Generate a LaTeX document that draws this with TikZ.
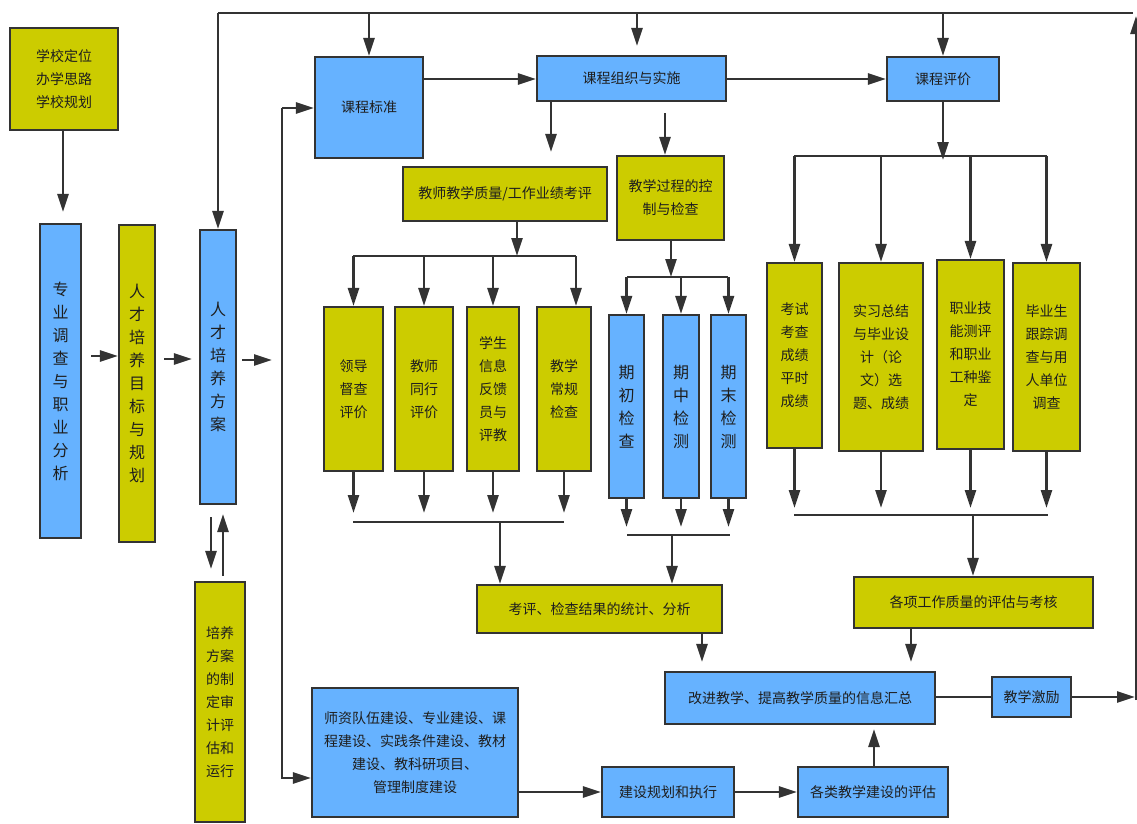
\documentclass[tikz,border=0pt]{standalone}
\usepackage{fontspec}
\newfontfamily\cjk{Noto Sans CJK SC}
\usetikzlibrary{arrows.meta}
\definecolor{yel}{RGB}{204,204,0}
\definecolor{blu}{RGB}{102,178,255}
\definecolor{lncol}{RGB}{51,51,51}
\definecolor{txcol}{RGB}{30,30,30}
\begin{document}
\begin{tikzpicture}[x=1pt,y=-1pt,
 box/.style={draw=lncol, line width=2.2pt, inner sep=0pt, align=center, text=txcol, font=\cjk\fontsize{14}{23}\selectfont},
 vbox/.style={font=\cjk\fontsize{16}{23}\selectfont},
 ybox/.style={box, fill=yel},
 bbox/.style={box, fill=blu},
 arr/.style={draw=lncol, line width=2.6pt, -{Triangle[length=18pt,width=11pt]}},
 plain/.style={draw=lncol, line width=2.6pt}]
\fill[white] (0,0) rectangle (1137,823);
\useasboundingbox (0,0) rectangle (1137,823);

% nodes
\node[ybox, minimum width=108, minimum height=102] (sch) at (64,79) {学校定位\\办学思路\\学校规划};
\node[bbox, vbox, minimum width=41, minimum height=314] (zy) at (60.5,381) {专\\业\\调\\查\\与\\职\\业\\分\\析};
\node[ybox, vbox, minimum width=36, minimum height=317] (mb) at (137,383.5) {人\\才\\培\\养\\目\\标\\与\\规\\划};
\node[bbox, vbox, minimum width=36, minimum height=274] (fa) at (218,367) {人\\才\\培\\养\\方\\案};
\node[ybox, minimum width=50, minimum height=240] (zd) at (220,702) {培养\\方案\\的制\\定审\\计评\\估和\\运行};
\node[bbox, minimum width=108, minimum height=101] (kcbz) at (369,107.5) {课程标准};
\node[bbox, minimum width=189, minimum height=45] (kczz) at (631.5,78.5) {课程组织与实施};
\node[bbox, minimum width=112, minimum height=44] (kcpj) at (943,79) {课程评价};
\node[ybox, minimum width=204, minimum height=54] (jskp) at (505,194) {教师教学质量/工作业绩考评};
\node[ybox, minimum width=107, minimum height=84] (jxgc) at (670.5,198) {教学过程的控\\制与检查};
\node[ybox, minimum width=59, minimum height=164] (ld) at (353.5,389) {领导\\督查\\评价};
\node[ybox, minimum width=58, minimum height=164] (th) at (424,389) {教师\\同行\\评价};
\node[ybox, minimum width=52, minimum height=164] (xs) at (493,389) {学生\\信息\\反馈\\员与\\评教};
\node[ybox, minimum width=54, minimum height=164] (cg) at (564,389) {教学\\常规\\检查};
\node[bbox, vbox, minimum width=35, minimum height=183] (qc) at (626.5,406.5) {期\\初\\检\\查};
\node[bbox, vbox, minimum width=36, minimum height=183] (qz) at (681,406.5) {期\\中\\检\\测};
\node[bbox, vbox, minimum width=35, minimum height=183] (qm) at (728.5,406.5) {期\\末\\检\\测};
\node[ybox, minimum width=55, minimum height=185] (ks) at (794.5,355.5) {考试\\考查\\成绩\\平时\\成绩};
\node[ybox, minimum width=84, minimum height=188] (sx) at (881,357) {实习总结\\与毕业设\\计（论\\文）选\\题、成绩};
\node[ybox, minimum width=67, minimum height=189] (zyjn) at (970.5,354.5) {职业技\\能测评\\和职业\\工种鉴\\定};
\node[ybox, minimum width=67, minimum height=188] (bys) at (1046.5,357) {毕业生\\跟踪调\\查与用\\人单位\\调查};
\node[ybox, minimum width=245, minimum height=48] (kpjg) at (599.5,609) {考评、检查结果的统计、分析};
\node[ybox, minimum width=239, minimum height=51] (gxgz) at (973.5,602.5) {各项工作质量的评估与考核};
\node[bbox, minimum width=270, minimum height=52] (gj) at (800,698) {改进教学、提高教学质量的信息汇总};
\node[bbox, minimum width=79, minimum height=40] (jl) at (1031.5,697) {教学激励};
\node[bbox, minimum width=206, minimum height=129] (sz) at (415,752.5) {师资队伍建设、专业建设、课\\程建设、实践条件建设、教材\\建设、教科研项目、\\管理制度建设};
\node[bbox, minimum width=132, minimum height=50] (jsgh) at (668,792) {建设规划和执行};
\node[bbox, minimum width=150, minimum height=50] (gl) at (873,792) {各类教学建设的评估};

% coordinates
\coordinate (tl) at (218,13);
\coordinate (tr) at (1133,13);
\coordinate (rb) at (1136,700);
\coordinate (rt) at (1136,16);
\coordinate (lv1) at (282,108);
\coordinate (lv2) at (282,778);
\coordinate (faout) at (272,360);
\coordinate (b1) at (517,256);
\coordinate (b1l) at (353,256);
\coordinate (b1r) at (576,256);
\coordinate (b2) at (671,277);
\coordinate (b2l) at (627,277);
\coordinate (b2r) at (728,277);
\coordinate (b3) at (943,156);
\coordinate (b3l) at (794,156);
\coordinate (b3r) at (1047,156);
\coordinate (c1) at (500,522);
\coordinate (c1l) at (353,522);
\coordinate (c1r) at (564,522);
\coordinate (c2) at (672,535);
\coordinate (c2l) at (627,535);
\coordinate (c2r) at (730,535);
\coordinate (c3) at (973,515);
\coordinate (c3l) at (794,515);
\coordinate (c3r) at (1048,515);
\coordinate (jlout) at (1135,697);

% left chain
\draw[arr, shorten >=11pt] (sch.south -| 63,0) -- (zy.north -| 63,0);
\draw[arr, shorten <=9pt] (zy.east |- 0,356) -- (mb.west |- 0,356);
\draw[arr, shorten <=8pt, shorten >=7pt] (mb.east |- 0,359) -- (fa.west |- 0,359);
\draw[arr, shorten <=5pt] (fa.east |- faout) -- (faout);
\draw[arr, shorten <=12pt, shorten >=12pt] (fa.south -| 211,0) -- (zd.north -| 211,0);
\draw[arr, shorten <=5pt, shorten >=9pt] (zd.north -| 223,0) -- (fa.south -| 223,0);

% top feedback line
\draw[plain] (tr) -- (tl);
\draw[arr] (tl) -- (fa.north);
\draw[arr] (kcbz.north |- tl) -- (kcbz.north);
\draw[arr, shorten >=9pt] (637,13) -- (kczz.north -| 637,0);
\draw[arr] (kcpj.north |- tl) -- (kcpj.north);
\draw[arr] (rb) -- (rt);

% left vertical line
\draw[arr] (lv1) -- (kcbz.west |- lv1);
\draw[arr] (lv1) -- (lv2) -- (sz.west |- lv2);

% course row
\draw[arr] (kcbz.east |- 0,79) -- (kczz.west |- 0,79);
\draw[arr] (kczz.east |- 0,79) -- (kcpj.west |- 0,79);
\draw[arr, shorten >=14pt] (kczz.south -| 551,0) -- (jskp.north -| 551,0);
\draw[arr, shorten <=11pt] (kczz.south -| 665,0) -- (jxgc.north -| 665,0);

% teacher evaluation branch
\draw[arr] (jskp.south -| b1) -- (b1);
\draw[plain] (b1l) -- (b1r);
\draw[arr] (ld.north |- b1l) -- (ld.north);
\draw[arr] (th.north |- b1l) -- (th.north);
\draw[arr] (xs.north |- b1l) -- (xs.north);
\draw[arr] (b1r) -- (cg.north -| b1r);

% process branch
\draw[arr] (jxgc.south -| b2) -- (b2);
\draw[plain] (b2l) -- (b2r);
\draw[arr] (qc.north |- b2l) -- (qc.north);
\draw[arr] (qz.north |- b2l) -- (qz.north);
\draw[arr] (qm.north |- b2l) -- (qm.north);

% evaluation branch
\draw[arr] (kcpj.south) -- ([yshift=-4pt]b3);
\draw[plain] (b3l) -- (b3r);
\draw[arr] (ks.north |- b3l) -- (ks.north);
\draw[arr] (sx.north |- b3l) -- (sx.north);
\draw[arr] (zyjn.north |- b3l) -- (zyjn.north);
\draw[arr] (bys.north |- b3l) -- (bys.north);

% collect bars
\foreach \n in {ld,th,xs,cg} \draw[arr, shorten >=9pt] (\n.south) -- (\n.south |- c1);
\draw[plain] (c1l) -- (c1r);
\draw[arr] (c1) -- (kpjg.north -| c1);
\foreach \n in {qc,qz,qm} \draw[arr, shorten >=8pt] (\n.south) -- (\n.south |- c2);
\draw[plain] (c2l) -- (c2r);
\draw[arr] (c2) -- (kpjg.north -| c2);
\foreach \n in {ks,sx,zyjn,bys} \draw[arr, shorten >=7pt] (\n.south) -- (\n.south |- c3);
\draw[plain] (c3l) -- (c3r);
\draw[arr] (c3) -- (gxgz.north -| c3);

% bottom
\draw[arr, shorten >=9pt] (kpjg.south -| 702,0) -- (gj.north -| 702,0);
\draw[arr, shorten >=9pt] (gxgz.south -| 911,0) -- (gj.north -| 911,0);
\draw[plain] (gj.east |- jl.west) -- (jl.west);
\draw[arr] (jl.east) -- (jlout);
\draw[arr] (sz.east |- jsgh.west) -- (jsgh.west);
\draw[arr] (jsgh.east) -- (gl.west);
\draw[arr, shorten >=4pt] (gl.north -| 874,0) -- (gj.south -| 874,0);
\end{tikzpicture}
\end{document}
